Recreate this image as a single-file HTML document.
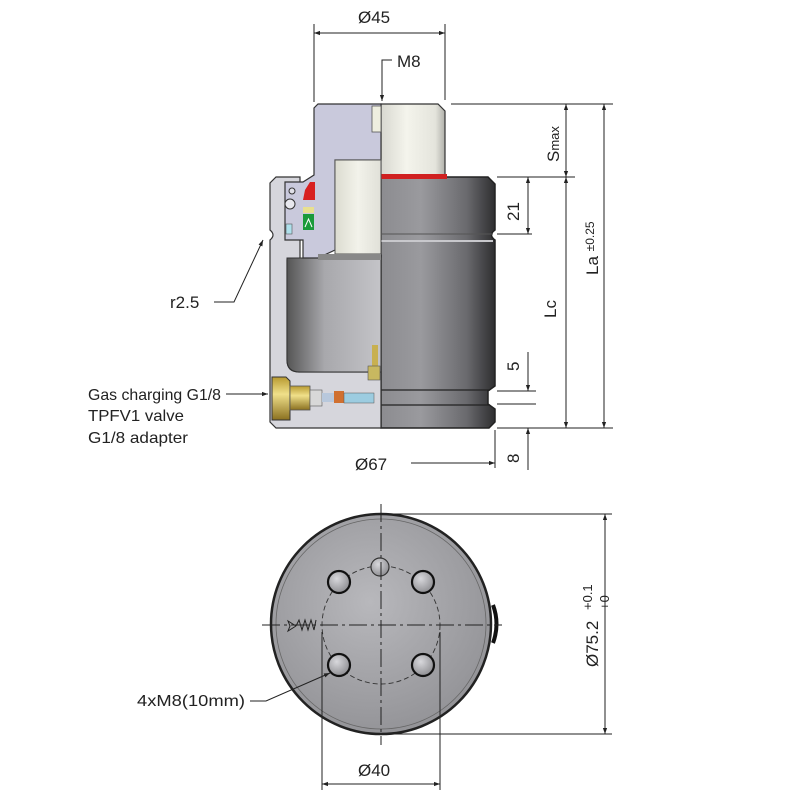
<!DOCTYPE html>
<html><head><meta charset="utf-8"><style>
html,body{margin:0;padding:0;background:#fff;}
svg{display:block;font-family:"Liberation Sans",sans-serif;}
</style></head><body>
<svg width="800" height="800" viewBox="0 0 800 800" xmlns="http://www.w3.org/2000/svg">
<defs>
<linearGradient id="body" x1="0" x2="1" y1="0" y2="0">
<stop offset="0" stop-color="#8c8c90"/><stop offset="0.35" stop-color="#9a9a9e"/><stop offset="0.75" stop-color="#6a6a6e"/><stop offset="1" stop-color="#2e2e30"/>
</linearGradient>
<linearGradient id="cav" x1="0" x2="1" y1="0" y2="0">
<stop offset="0" stop-color="#555"/><stop offset="0.4" stop-color="#a8a8ac"/><stop offset="1" stop-color="#c4c4c8"/>
</linearGradient>
<linearGradient id="rod" x1="0" x2="1" y1="0" y2="0">
<stop offset="0" stop-color="#d8d8d0"/><stop offset="0.4" stop-color="#f4f4ec"/><stop offset="0.85" stop-color="#e4e4dc"/><stop offset="1" stop-color="#b0b0aa"/>
</linearGradient>
<linearGradient id="cream" x1="0" x2="1" y1="0" y2="0">
<stop offset="0" stop-color="#dcdcd0"/><stop offset="0.5" stop-color="#f2f2ea"/><stop offset="1" stop-color="#e0e0d8"/>
</linearGradient>
<radialGradient id="face" cx="0.45" cy="0.4" r="0.7">
<stop offset="0" stop-color="#b8b8bc"/><stop offset="1" stop-color="#8e8e92"/>
</radialGradient>
<radialGradient id="hole" cx="0.4" cy="0.35" r="0.7">
<stop offset="0" stop-color="#d8d8dc"/><stop offset="1" stop-color="#8a8a8e"/>
</radialGradient>
<linearGradient id="brass" x1="0" x2="0" y1="0" y2="1">
<stop offset="0" stop-color="#b89a30"/><stop offset="0.4" stop-color="#f0e08a"/><stop offset="1" stop-color="#8a7020"/>
</linearGradient>
<marker id="ar" viewBox="0 0 10 10" refX="10" refY="5" markerWidth="10" markerHeight="6" orient="auto-start-reverse" markerUnits="userSpaceOnUse">
<path d="M0,1.5 L10,5 L0,8.5 z" fill="#222"/>
</marker>
</defs>

<path d="M381,177 L488,177 L495,184 L495,230 Q488,235 495,240 L495,386 L488,391 L488,404 L495,409 L495,422 L489,428 L381,428 Z" fill="url(#body)" stroke="#222" stroke-width="1.5"/>
<line x1="381" y1="234" x2="493" y2="234" stroke="#555" stroke-width="1"/>
<line x1="381" y1="241" x2="493" y2="241" stroke="#c8c8cc" stroke-width="2"/>
<line x1="381" y1="390" x2="490" y2="390" stroke="#222" stroke-width="1.2"/>
<line x1="381" y1="405" x2="490" y2="405" stroke="#222" stroke-width="1.2"/>
<path d="M381,104 L438,104 L445,111 L445,177 L381,177 Z" fill="url(#rod)" stroke="#333" stroke-width="1.2"/>
<rect x="381" y="174" width="66" height="5" fill="#d02020"/>

<path d="M276,177 L300,177 L300,260 L287,260 L287,360 Q287,372 299,372 L381,372 L381,428 L276,428 L270,422 L270,240 Q276,235 270,230 L270,183 Z" fill="#d6d6dc" stroke="#333" stroke-width="1.2"/>
<path d="M287,258 L381,258 L381,372 L300,372 Q287,372 287,360 Z" fill="url(#cav)" stroke="#333" stroke-width="1"/>
<path d="M318,104 L381,104 L381,160 L335,160 L335,250 L318,258 L303,258 L303,240 L285,240 L285,182 L303,182 L314,175 L314,108 Z" fill="#c9c9dc" stroke="#333" stroke-width="1.2"/>
<rect x="372" y="106" width="9" height="26" fill="#eeeedf" stroke="#555" stroke-width="0.8"/>
<rect x="335" y="160" width="46" height="94" fill="url(#cream)" stroke="#555" stroke-width="1"/>
<rect x="318" y="254" width="63" height="6" fill="#888"/>
<path d="M305,190 L310,182 L315,182 L315,200 L303,200 Z" fill="#d82020"/>
<rect x="303" y="207" width="11" height="6" fill="#e8e090"/>
<rect x="303" y="214" width="11" height="16" fill="#1a9a3a"/>
<path d="M305,227 L308.5,219 L312,227" fill="none" stroke="#fff" stroke-width="1"/>
<circle cx="290" cy="204" r="5" fill="#e8e8ee" stroke="#333" stroke-width="1"/>
<circle cx="292" cy="191" r="3" fill="#e0e0e8" stroke="#333" stroke-width="1"/>
<rect x="286" y="224" width="6" height="10" fill="#aee0ec" stroke="#555" stroke-width="0.6"/>
<rect x="372" y="345" width="6" height="25" fill="#c8b050"/>
<rect x="368" y="366" width="12" height="14" fill="#c8b860" stroke="#555" stroke-width="0.6"/>
<path d="M272,377 L286,377 L290,381 L290,420 L272,420 Z" fill="url(#brass)" stroke="#333" stroke-width="1"/>
<rect x="290" y="386" width="20" height="24" fill="url(#brass)" stroke="#555" stroke-width="0.8"/>
<rect x="310" y="390" width="12" height="16" fill="#d8d8d8" stroke="#555" stroke-width="0.6"/>
<rect x="322" y="393" width="12" height="9" fill="#b8c8dc"/>
<rect x="334" y="391" width="10" height="12" fill="#d07030"/>
<rect x="344" y="393" width="30" height="10" fill="#9ccce0" stroke="#555" stroke-width="0.5"/>

<g stroke="#222" stroke-width="1" fill="none">
<line x1="314" y1="24" x2="314" y2="102"/>
<line x1="445" y1="24" x2="445" y2="100"/>
<line x1="314" y1="33" x2="445" y2="33" marker-start="url(#ar)" marker-end="url(#ar)"/>
<polyline points="392,60 382,60 382,101" marker-end="url(#ar)"/>
<line x1="451" y1="104" x2="613" y2="104"/>
<line x1="497" y1="177" x2="575" y2="177"/>
<line x1="566" y1="104" x2="566" y2="177" marker-start="url(#ar)" marker-end="url(#ar)"/>
<line x1="566" y1="177" x2="566" y2="428" marker-start="url(#ar)" marker-end="url(#ar)"/>
<line x1="604" y1="104" x2="604" y2="428" marker-start="url(#ar)" marker-end="url(#ar)"/>
<line x1="497" y1="234" x2="532" y2="234"/>
<line x1="528" y1="177" x2="528" y2="234" marker-start="url(#ar)" marker-end="url(#ar)"/>
<line x1="497" y1="391" x2="536" y2="391"/>
<line x1="497" y1="404" x2="536" y2="404"/>
<line x1="497" y1="428" x2="613" y2="428"/>
<line x1="528" y1="352" x2="528" y2="391" marker-end="url(#ar)"/>
<line x1="528" y1="470" x2="528" y2="428" marker-end="url(#ar)"/>
<line x1="495" y1="430" x2="495" y2="468"/>
<line x1="411" y1="463" x2="495" y2="463" marker-end="url(#ar)"/>
<polyline points="214,302 234,302 263,240" marker-end="url(#ar)"/>
<line x1="226" y1="394" x2="268" y2="394" marker-end="url(#ar)"/>
</g>
<g fill="#222" font-size="17">
<text x="358" y="23">Ø45</text>
<text x="397" y="67">M8</text>
<text x="170" y="308">r2.5</text>
<text x="355" y="470">Ø67</text>
<text transform="translate(519,221) rotate(-90)">21</text>
<text transform="translate(519,371) rotate(-90)">5</text>
<text transform="translate(519,463) rotate(-90)">8</text>
<text transform="translate(556,318) rotate(-90)">Lc</text>
<text transform="translate(559,162) rotate(-90)">S<tspan font-size="13">max</tspan></text>
<text transform="translate(598,275) rotate(-90)">La <tspan font-size="12" dy="-4">±0.25</tspan></text>
</g>
<g fill="#222" font-size="16">
<text x="88" y="400" textLength="133" lengthAdjust="spacingAndGlyphs">Gas charging G1/8</text>
<text x="88" y="421" textLength="96" lengthAdjust="spacingAndGlyphs">TPFV1 valve</text>
<text x="88" y="443" textLength="100" lengthAdjust="spacingAndGlyphs">G1/8 adapter</text>
</g>

<circle cx="381" cy="624" r="110" fill="url(#face)" stroke="#222" stroke-width="2.5"/>
<circle cx="381" cy="624" r="105" fill="none" stroke="#666" stroke-width="0.8"/>
<path d="M493,605 Q500,624 493,643" fill="none" stroke="#111" stroke-width="4"/>
<circle cx="381" cy="625" r="59" fill="none" stroke="#333" stroke-width="0.9" stroke-dasharray="5,3"/>
<g stroke="#111" stroke-width="2.2" fill="url(#hole)">
<circle cx="339" cy="582" r="11"/><circle cx="423" cy="582" r="11"/>
<circle cx="339" cy="665" r="11"/><circle cx="423" cy="665" r="11"/>
</g>
<circle cx="380" cy="567" r="9" fill="url(#hole)" stroke="#333" stroke-width="1.2"/>
<g stroke="#222" stroke-width="1" fill="none">
<line x1="262" y1="625" x2="502" y2="625" stroke-dasharray="18,4,3,4"/>
<line x1="381" y1="504" x2="381" y2="745" stroke-dasharray="18,4,3,4"/>
<polyline points="296,626 288,621 290,626 288,631 296,626" />
<polyline points="296,626 299,620 302,630 305,620 308,630 311,620 314,630 316,620"/>
<line x1="391" y1="514" x2="612" y2="514"/>
<line x1="391" y1="734" x2="612" y2="734"/>
<line x1="605" y1="514" x2="605" y2="734" marker-start="url(#ar)" marker-end="url(#ar)"/>
<line x1="322" y1="632" x2="322" y2="790"/>
<line x1="440" y1="632" x2="440" y2="790"/>
<line x1="322" y1="784" x2="440" y2="784" marker-start="url(#ar)" marker-end="url(#ar)"/>
<polyline points="250,701 266,701 330,673" marker-end="url(#ar)"/>
</g>
<g fill="#222" font-size="17">
<text x="358" y="776">Ø40</text>
<text transform="translate(598,667) rotate(-90)">Ø75.2</text>
<text font-size="13" transform="translate(592,610) rotate(-90)">+0.1</text>
<text font-size="13" transform="translate(609,610) rotate(-90)">+0</text>
</g>
<text x="137" y="706" font-size="16" fill="#222" textLength="108" lengthAdjust="spacingAndGlyphs">4xM8(10mm)</text>
</svg>
</body></html>
